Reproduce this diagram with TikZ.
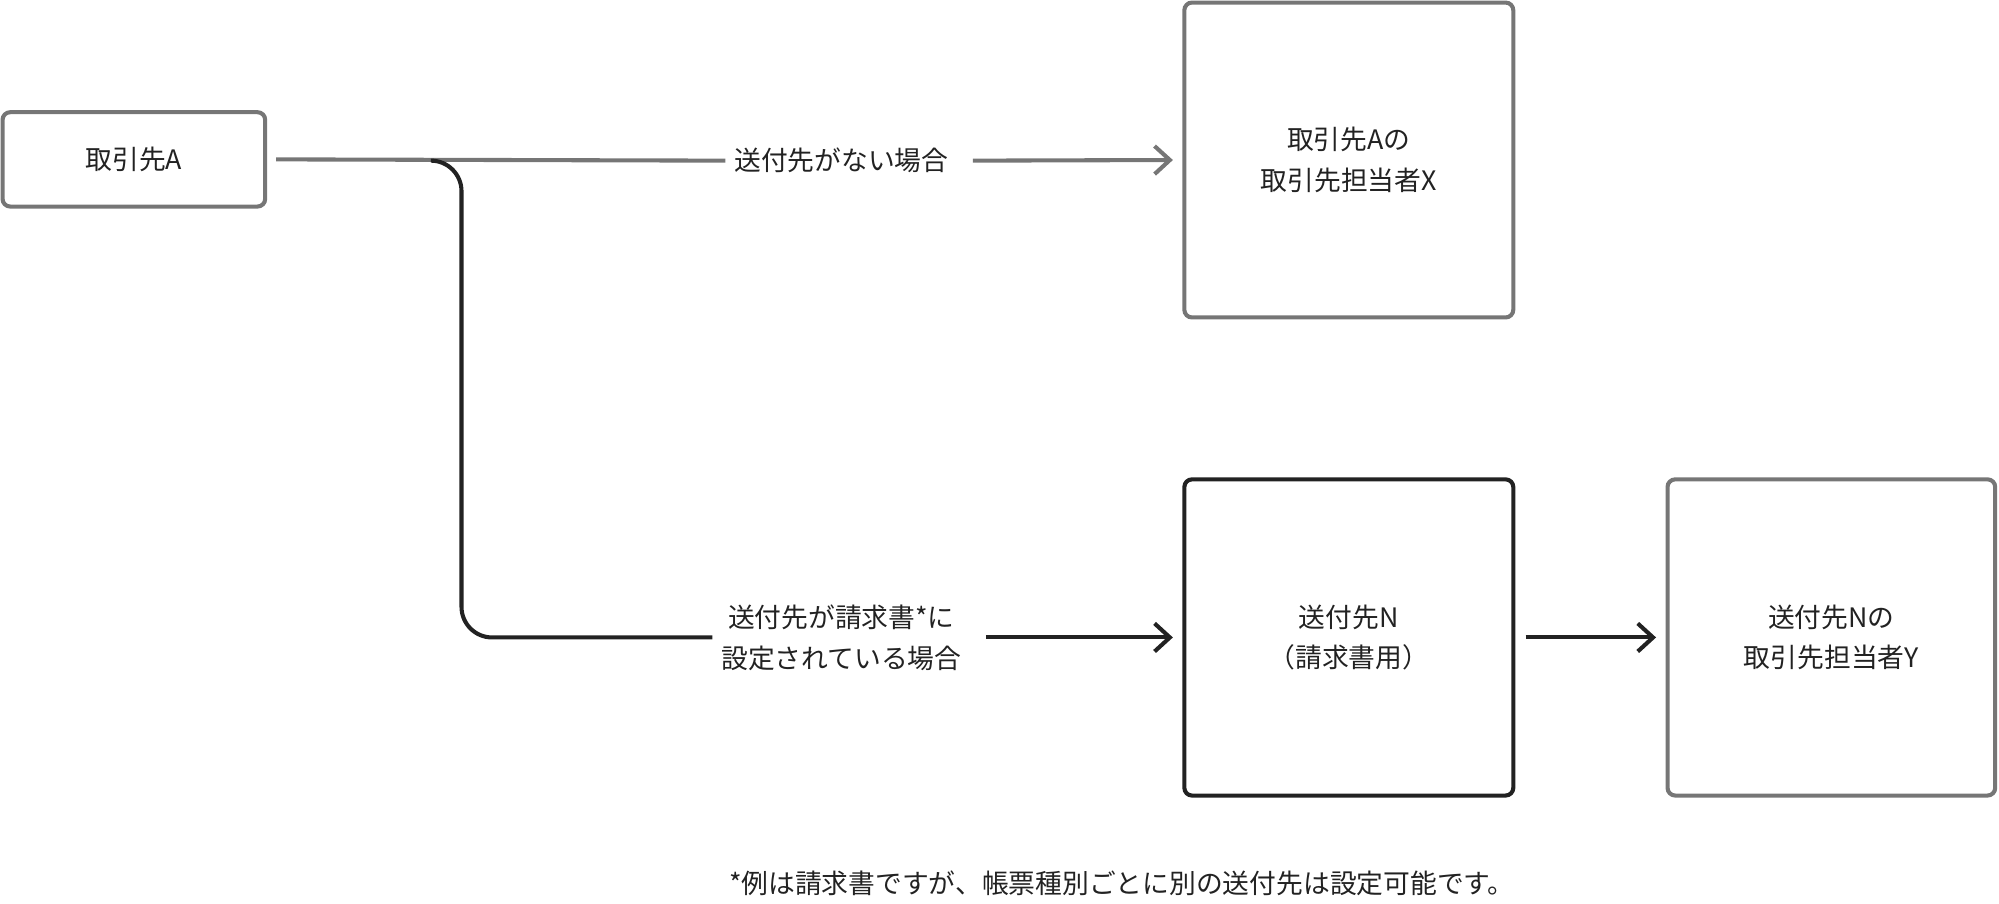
\documentclass[tikz,border=0pt]{standalone}
\usepackage{fontspec}
\setmainfont{Noto Sans CJK JP}
\usetikzlibrary{arrows.meta}
\definecolor{gr}{HTML}{767676}
\definecolor{dk}{HTML}{222222}
\begin{document}
\begin{tikzpicture}[x=0.5pt,y=-0.5pt,
  box/.style={draw=gr,line width=1.6pt,rounded corners=3pt,align=center,font=\fontsize{10.5}{16}\selectfont,text=dk},
  lbl/.style={align=center,font=\fontsize{10.5}{16}\selectfont,text=dk},
  ar/.style={-{Straight Barb[length=6pt,width=11pt]},line width=1.6pt}]
\useasboundingbox (0,0) rectangle (1568,709);
\node[box,minimum width=103pt,minimum height=37pt] (A) at (105,125) {取引先A};
\node[box,minimum width=129pt,minimum height=123.5pt] (X) at (1058,125.5) {取引先Aの\\取引先担当者X};
\node[box,draw=dk,minimum width=129pt,minimum height=124pt] (N) at (1058,500) {送付先N\\（請求書用）};
\node[box,minimum width=128.5pt,minimum height=124pt] (Y) at (1436.5,500) {送付先Nの\\取引先担当者Y};
\node[lbl] (l1) at (660,126) {送付先がない場合};
\node[lbl] (l2) at (660,500) {送付先が請求書*に\\設定されている場合};
\node[lbl] (fn) at (880,693) {*例は請求書ですが、帳票種別ごとに別の送付先は設定可能です。};
\draw[gr,line width=1.6pt] (A.east)++(7,0) coordinate (a0) -- (l1.west);
\draw[gr,ar] (l1.east) ++(12,0) -- (X.west -| 920,0) coordinate (xa);
\draw[dk,line width=1.6pt,rounded corners=12pt] (340,126) -| (362,500) -- (l2.west);
\draw[dk,ar] (l2.east) ++(12,0) -- (920,500);
\draw[dk,ar] (N.east) ++(8,0) -- (1299,500);
\end{tikzpicture}
\end{document}
